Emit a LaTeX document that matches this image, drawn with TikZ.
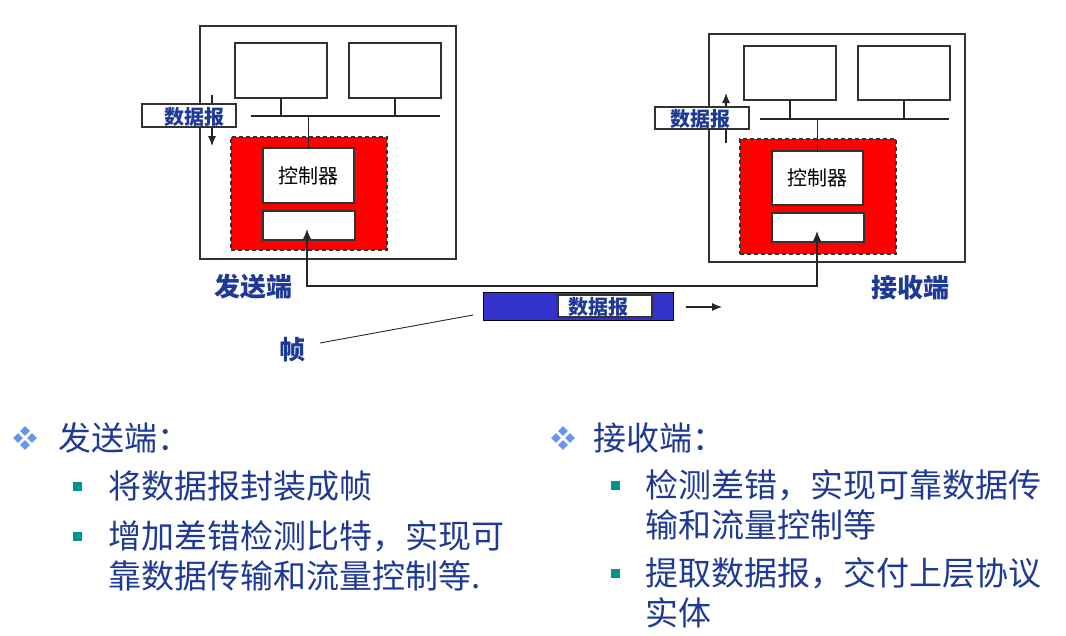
\documentclass[tikz,border=0pt]{standalone}
\usepackage{fontspec}
\setmainfont{Noto Sans CJK SC}
\usetikzlibrary{arrows.meta}
\definecolor{lblue}{RGB}{31,58,150}
\definecolor{fblue}{RGB}{51,51,204}
\definecolor{teal2}{RGB}{0,150,140}
\definecolor{dia}{RGB}{100,150,240}
\definecolor{lgray}{RGB}{50,50,50}
\tikzset{
  box/.style={draw=lgray, line width=1.1pt, fill=white, inner sep=0pt, outer sep=0pt},
  redzone/.style={draw=black!80, dash pattern=on 4pt off 3pt, line width=1.1pt, fill=red, inner sep=0pt, outer sep=0pt},
  wire/.style={draw=black!85, line width=1.1pt},
  tip/.tip={Latex[length=10pt,width=8pt]},
  arr/.style={wire, -tip},
  dlab/.style={text=lblue, font=\bfseries\fontsize{20}{22}\selectfont},
  biglab/.style={text=lblue, font=\bfseries\fontsize{26}{28}\selectfont},
  btext/.style={text=lblue, anchor=west, align=left, inner sep=0pt, font=\fontsize{33}{40}\selectfont},
  sq/.style={fill=teal2, inner sep=0pt, minimum size=9pt},
  dm/.style={fill=dia, inner sep=0pt, minimum size=7pt, rotate=45}
}
\begin{document}
\begin{tikzpicture}[x=1pt,y=-1pt]
\useasboundingbox (0,0) rectangle (1066,635);
% ---------------- sender ----------------
\node[box, minimum width=256pt, minimum height=233pt] (sout) at (328,142.5) {};
\node[box, minimum width=92pt, minimum height=55pt] (shA) at (281,70.5) {};
\node[box, minimum width=92pt, minimum height=55pt] (shB) at (395,70.5) {};
\coordinate (sbusL) at (251,116);
\coordinate (sbusR) at (440,116);
\draw[wire] (sbusL) -- (sbusR);
\draw[wire] (shA.south) -- (shA.south |- sbusL);
\draw[wire] (shB.south) -- (shB.south |- sbusL);
\node[redzone, minimum width=156pt, minimum height=113pt] (sred) at (309,193.5) {};
\node[box, minimum width=91pt, minimum height=55pt, font=\fontsize{20}{22}\selectfont] (sctrl) at (308.5,175.5) {控制器};
\node[box, minimum width=92pt, minimum height=29pt] (snic) at (309,225.5) {};
\draw[wire] (sctrl.north) -- (sctrl.north |- sbusL);
\coordinate (sdT) at (212,95);
\coordinate (sdB) at (212,146);
\draw[arr] (sdT) -- (sdB);
\node[box, minimum width=94pt, minimum height=23pt] (sdg) at (189,115.5) {};
\node[dlab] (sdgt) at (194,116.5) {数据报};
\node[biglab] (slab) at (253,287) {发送端};
% ---------------- receiver ----------------
\node[box, minimum width=256pt, minimum height=228pt] (rout) at (837,148) {};
\node[box, minimum width=92pt, minimum height=54pt] (rhA) at (790,73) {};
\node[box, minimum width=92pt, minimum height=54pt] (rhB) at (904,73) {};
\coordinate (rbusL) at (760,119);
\coordinate (rbusR) at (949,119);
\draw[wire] (rbusL) -- (rbusR);
\draw[wire] (rhA.south) -- (rhA.south |- rbusL);
\draw[wire] (rhB.south) -- (rhB.south |- rbusL);
\node[redzone, minimum width=156pt, minimum height=115pt] (rred) at (818,196.5) {};
\node[box, minimum width=91pt, minimum height=54pt, font=\fontsize{20}{22}\selectfont] (rctrl) at (817.5,178) {控制器};
\node[box, minimum width=92pt, minimum height=29pt] (rnic) at (818,227.5) {};
\draw[wire] (rctrl.north) -- (rctrl.north |- rbusL);
\coordinate (ruB) at (726,143);
\coordinate (ruT) at (726,93);
\draw[arr] (ruB) -- (ruT);
\node[box, minimum width=94pt, minimum height=22pt] (rdg) at (702,118) {};
\node[dlab] (rdgt) at (700,119) {数据报};
\node[biglab] (rlab) at (910,288) {接收端};
% ---------------- link ----------------
\coordinate (stip) at (307,229);
\coordinate (rtip) at (817,231);
\coordinate (linky) at (0,286);
\draw[wire, tip-tip] (stip) -- (stip |- linky) -- (rtip |- linky) -- (rtip);
% ---------------- frame ----------------
\node[draw=black, line width=1pt, fill=fblue, minimum width=190pt, minimum height=28pt, inner sep=0pt] (frame) at (578,306) {};
\node[box, draw=black!80, minimum width=94pt, minimum height=22pt] (fdg) at (605,306) {};
\node[dlab] (fdgt) at (598,307) {数据报};
\coordinate (mvA) at (686,307);
\coordinate (mvB) at (722,307);
\draw[arr] (mvA) -- (mvB);
\node[biglab] (zhen) at (292,350) {帧};
\coordinate (zl) at (320,343);
\coordinate (zf) at (473,315);
\draw[wire, line width=0.9pt] (zl) -- (zf);
% ---------------- bullets ----------------
\foreach \cx/\nm in {25/l, 563/r}{
  \node[dm] (\nm d1) at (\cx,431) {};
  \node[dm] (\nm d2) at (\cx-7,438) {};
  \node[dm] (\nm d3) at (\cx+7,438) {};
  \node[dm] (\nm d4) at (\cx,445) {};
}
\node[btext] (lt) at (58,438) {发送端：};
\node[sq] (ls1) at (77,486) {};
\node[btext] (l1) at (108,486) {将数据报封装成帧};
\node[sq] (ls2) at (77,536) {};
\node[btext] (l2) at (108,556) {增加差错检测比特，实现可\\靠数据传输和流量控制等.};
\node[btext] (rt) at (593,438) {接收端：};
\node[sq] (rs1) at (615,485) {};
\node[btext] (r1) at (645,505) {检测差错，实现可靠数据传\\输和流量控制等};
\node[sq] (rs2) at (615,573) {};
\node[btext] (r2) at (645,593) {提取数据报，交付上层协议\\实体};
\end{tikzpicture}
\end{document}
